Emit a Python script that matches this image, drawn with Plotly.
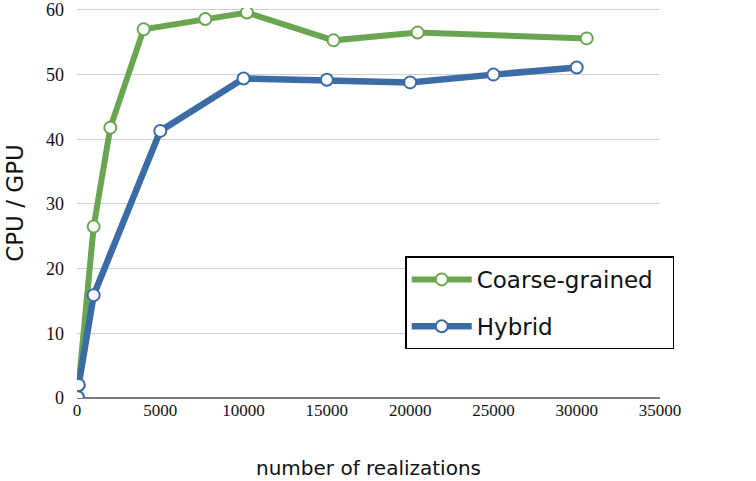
import plotly.graph_objects as go

coarse_x = [50, 100, 1000, 2000, 4000, 7700, 10200, 15400, 20450, 30600]
coarse_y = [0.2, 2.0, 26.5, 41.8, 57.0, 58.6, 59.6, 55.3, 56.5, 55.6]
hybrid_x = [50, 100, 1000, 5000, 10000, 15000, 20000, 25000, 30000]
hybrid_y = [0.1, 2.0, 15.9, 41.3, 49.4, 49.2, 48.8, 50.0, 51.1]
x_ticks = [0, 5000, 10000, 15000, 20000, 25000, 30000, 35000]
x_ticktext = ["0", "5000", "10000", "15000", "20000", "25000", "30000", "35000"]
y_ticks = [0, 10, 20, 30, 40, 50, 60]

green = "#6aa551"
blue = "#3b6ca6"

fig = go.Figure()
fig.add_trace(go.Scatter(
    x=coarse_x, y=coarse_y, name="Coarse-grained\u00a0\u00a0", mode="lines+markers",
    legendgroup="a",
    line=dict(color=green, width=6),
    marker=dict(size=12, color="white", line=dict(color=green, width=2)),
))
fig.add_trace(go.Scatter(
    x=hybrid_x, y=hybrid_y, name="Hybrid", mode="lines+markers",
    legendgroup="b",
    line=dict(color=blue, width=6.5),
    marker=dict(size=12, color="white", line=dict(color=blue, width=2)),
))

fig.update_layout(
    width=756, height=481,
    margin=dict(l=77, r=96, t=8, b=83),
    paper_bgcolor="white", plot_bgcolor="white",
    showlegend=True,
    legend=dict(
        x=0.563, y=0.363, xanchor="left", yanchor="top",
        bordercolor="black", borderwidth=1.5,
        font=dict(family="DejaVu Sans", size=23, color="#111"),
        traceorder="grouped", tracegroupgap=14,
        itemwidth=60,
    ),
    xaxis=dict(
        range=[0, 35000], tickvals=x_ticks, ticktext=x_ticktext,
        showgrid=False, zeroline=False, showline=False, ticks="",
        automargin=False,
        tickfont=dict(family="Liberation Serif", size=17, color="#111"),
        title=dict(text="number of realizations", font=dict(family="DejaVu Sans", size=20, color="#111"), standoff=41),
    ),
    yaxis=dict(
        range=[0, 60.3], tickvals=y_ticks,
        showgrid=True, gridcolor="#d0d0d0", gridwidth=1,
        zeroline=True, zerolinecolor="#7a7a7a", zerolinewidth=1.5,
        showline=False, ticks="", automargin=False,
        ticklabelstandoff=12, ticklabeloverflow="allow",
        tickfont=dict(family="Liberation Serif", size=18, color="#111"),
        title=dict(text="CPU / GPU", font=dict(family="DejaVu Sans", size=23, color="#111"), standoff=15),
    ),
)

fig.write_html("out.html", config={"displayModeBar": False},
               post_script="document.body.style.margin='0px';")
